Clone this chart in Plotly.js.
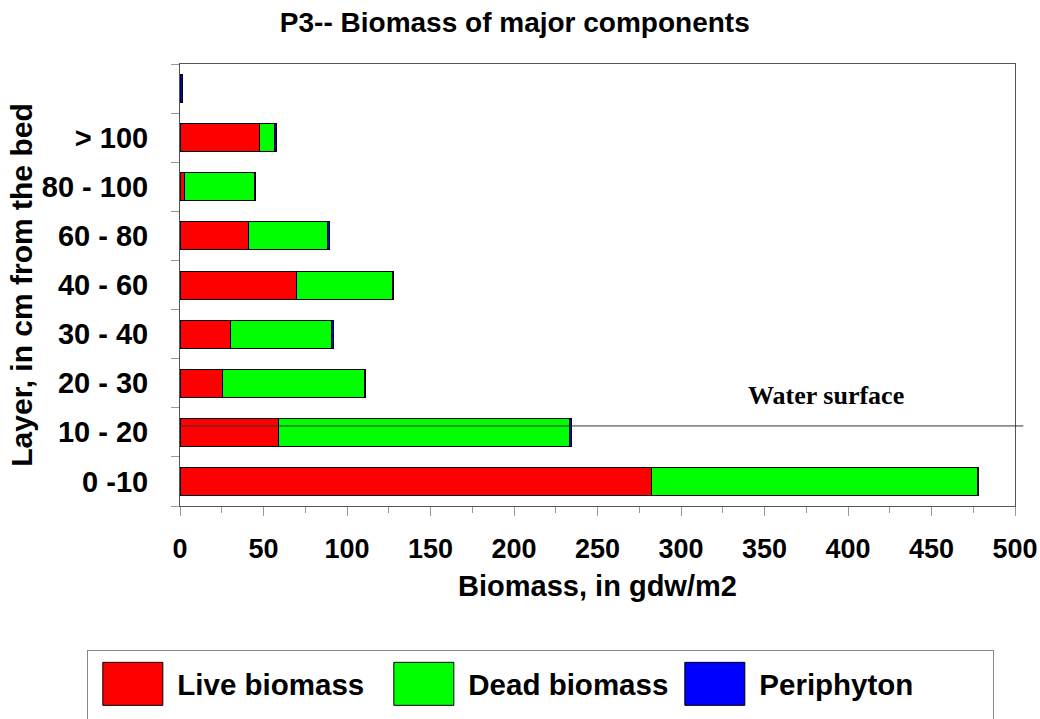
<!DOCTYPE html>
<html>
<head>
<meta charset="utf-8">
<script src="https://cdn.plot.ly/plotly-3.0.1.min.js"></script>
<style>html,body{margin:0;padding:0;background:#fff;}#chart{width:1040px;height:719px;}</style>
</head>
<body>
<div id="chart"></div>
<script>
const layers = ["0 -10", "10 - 20", "20 - 30", "30 - 40", "40 - 60", "60 - 80", "80 - 100", "> 100", " "];
const liveBiomass = [282.6, 58.7, 25.6, 30.3, 69.9, 40.9, 2.6, 47.5, 0];
const deadBiomass = [194.8, 174.8, 84.6, 60.5, 57.1, 47.3, 42.1, 9.0, 0];
const periphyton = [1.0, 1.0, 0.6, 1.0, 0.6, 1.4, 0.8, 1.0, 1.5];
const xTicks = [0, 50, 100, 150, 200, 250, 300, 350, 400, 450, 500];
const waterSurfaceLevel = 1.13;   // position on the layer axis
const waterLabelX = 387;

const F = '"Liberation Sans", Arial, sans-serif';
const lineStyle = {color: '#000000', width: 1};

const traces = [
  {type: 'bar', orientation: 'h', name: 'Live biomass', y: layers, x: liveBiomass,
   marker: {color: '#FF0000', line: lineStyle}, width: 0.57},
  {type: 'bar', orientation: 'h', name: 'Dead biomass', y: layers, x: deadBiomass,
   marker: {color: '#00FF00', line: lineStyle}, width: 0.57},
  {type: 'bar', orientation: 'h', name: 'Periphyton', y: layers, x: periphyton,
   marker: {color: '#0000FF', line: lineStyle}, width: 0.57}
];

const layout = {
  width: 1040, height: 719,
  margin: {l: 180, r: 25, t: 64, b: 213, autoexpand: false},
  paper_bgcolor: '#ffffff', plot_bgcolor: '#ffffff',
  barmode: 'stack',
  showlegend: true,
  title: {text: 'P3-- Biomass of major components', font: {family: F, size: 28, color: '#000', weight: 'bold'},
          xref: 'container', x: 0.495, xanchor: 'center', yref: 'container', y: 0.969, yanchor: 'middle'},
  xaxis: {
    range: [0, 500], tickvals: xTicks, ticktext: xTicks.map(String),
    showgrid: false, zeroline: false,
    showline: true, linecolor: '#555', linewidth: 1, mirror: true,
    ticks: 'outside', ticklen: 9, tickcolor: '#999', tickwidth: 1,
    minor: {dtick: 25, ticks: 'outside', ticklen: 6, tickcolor: '#999', showgrid: false},
    tickfont: {family: F, size: 27, color: '#000', weight: 'bold'},
    ticklabelstandoff: 10,
    title: {text: 'Biomass, in gdw/m2', font: {family: F, size: 29, color: '#000', weight: 'bold'}, standoff: 12}
  },
  yaxis: {
    type: 'category', categoryorder: 'array', categoryarray: layers,
    range: [-0.5, 8.5],
    showgrid: false, zeroline: false,
    showline: true, linecolor: '#555', linewidth: 1, mirror: true,
    ticks: 'outside', ticklen: 8, tickcolor: '#999', tickson: 'boundaries',
    tickfont: {family: F, size: 29, color: '#000', weight: 'bold'},
    ticklabelstandoff: 25,
    title: {text: 'Layer, in cm from the bed', font: {family: F, size: 30, color: '#000', weight: 'bold'}, standoff: 0}
  },
  shapes: [
    {type: 'line', xref: 'paper', yref: 'y', x0: 0, x1: 1.01, y0: waterSurfaceLevel, y1: waterSurfaceLevel,
     line: {color: '#333', width: 1}}
  ],
  annotations: [
    {text: '<b>Water surface</b>', xref: 'x', yref: 'y', x: waterLabelX, y: 1.75, showarrow: false,
     font: {family: '"Liberation Serif", "Times New Roman", serif', size: 26, color: '#000'}}
  ],
  legend: {
    orientation: 'h', xref: 'paper', yref: 'paper', x: -0.111, xanchor: 'left', y: -0.342, yanchor: 'top',
    bgcolor: '#ffffff', bordercolor: '#888', borderwidth: 1,
    font: {family: F, size: 29.5, color: '#000', weight: 'bold'},
    itemwidth: 79, entrywidth: 197, entrywidthmode: 'pixels',
    traceorder: 'normal', itemclick: false, itemdoubleclick: false
  }
};

Plotly.newPlot('chart', traces, layout, {displayModeBar: false, staticPlot: true}).then(function(gd){
  // enlarge legend swatches to match the reference
  gd.querySelectorAll('.legend .legendpoints path').forEach(function(p){
    p.setAttribute('d', 'M30,21.5H-30V-21.5H30Z');
  });
  var bg = gd.querySelector('.legend rect.bg');
  if (bg) {
    var y0 = parseFloat(bg.getAttribute('y') || '0');
    bg.setAttribute('y', String(y0 - 7));
    bg.setAttribute('height', '140');
    bg.setAttribute('width', '906');
  }
});
</script>
</body>
</html>
